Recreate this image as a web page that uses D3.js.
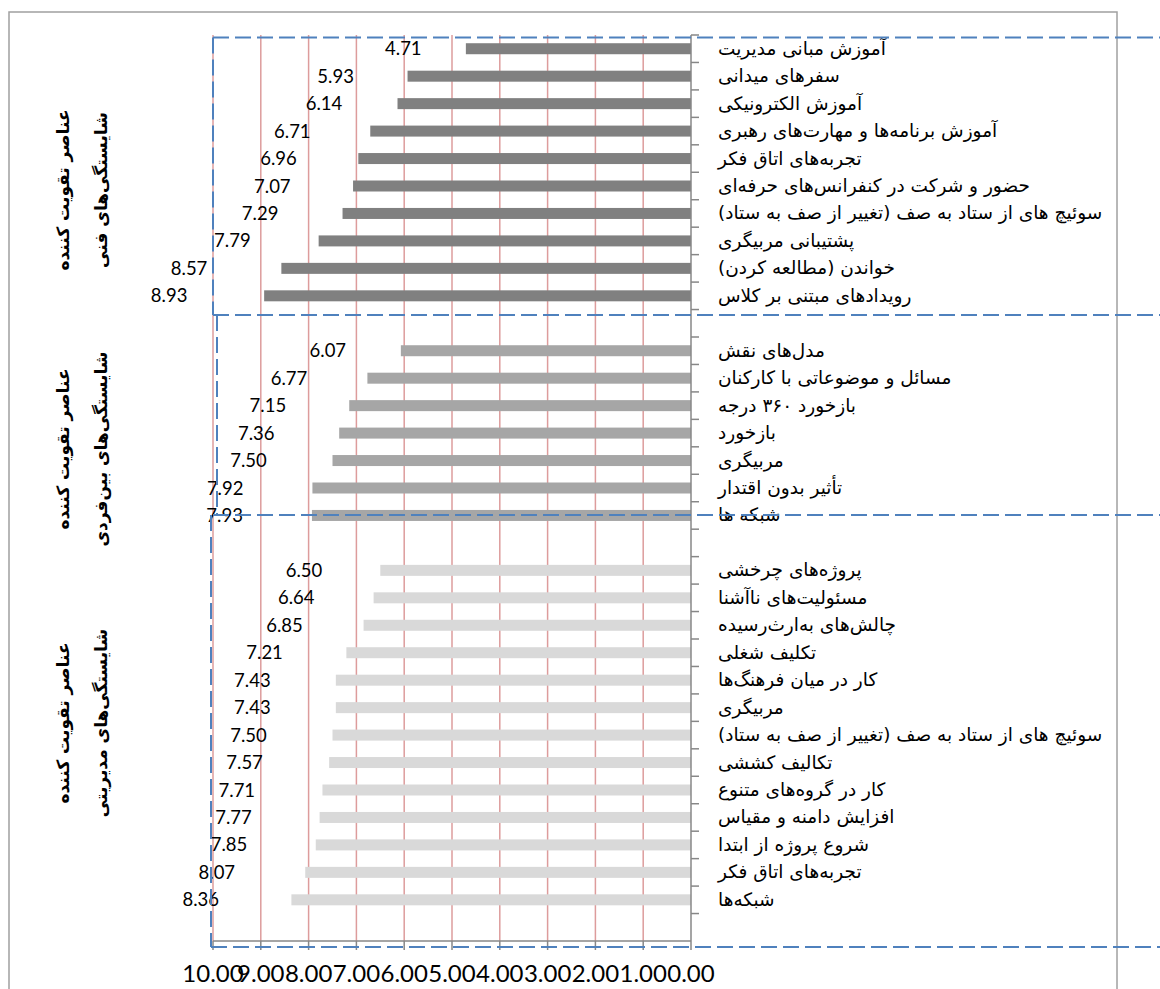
<!DOCTYPE html>
<html>
<head>
<meta charset="utf-8">
<script src="https://cdn.jsdelivr.net/npm/d3@7"></script>
<style>
  html, body { margin: 0; padding: 0; background: #fff; }
  svg { display: block; }
</style>
</head>
<body>
<svg id="chart" width="1160" height="989"></svg>
<script>
// ---------- data ----------
const techLabels = [
  "آموزش مبانی مدیریت",
  "سفرهای میدانی",
  "آموزش الکترونیکی",
  "آموزش برنامه‌ها و مهارت‌های رهبری",
  "تجربه‌های اتاق فکر",
  "حضور و شرکت در کنفرانس‌های حرفه‌ای",
  "سوئیچ های از ستاد به صف (تغییر از صف به ستاد)",
  "پشتیبانی مربیگری",
  "خواندن (مطالعه کردن)",
  "رویدادهای مبتنی بر کلاس"
];
const techValues = [4.71, 5.93, 6.14, 6.71, 6.96, 7.07, 7.29, 7.79, 8.57, 8.93];

const interLabels = [
  "مدل‌های نقش",
  "مسائل و موضوعاتی با کارکنان",
  "بازخورد ۳۶۰ درجه",
  "بازخورد",
  "مربیگری",
  "تأثیر بدون اقتدار",
  "شبکه ها"
];
const interValues = [6.07, 6.77, 7.15, 7.36, 7.50, 7.92, 7.93];

const manageLabels = [
  "پروژه‌های چرخشی",
  "مسئولیت‌های ناآشنا",
  "چالش‌های به‌ارث‌رسیده",
  "تکلیف شغلی",
  "کار در میان فرهنگ‌ها",
  "مربیگری",
  "سوئیچ های از ستاد به صف (تغییر از صف به ستاد)",
  "تکالیف کششی",
  "کار در گروه‌های متنوع",
  "افزایش دامنه و مقیاس",
  "شروع پروژه از ابتدا",
  "تجربه‌های اتاق فکر",
  "شبکه‌ها"
];
const manageValues = [6.50, 6.64, 6.85, 7.21, 7.43, 7.43, 7.50, 7.57, 7.71, 7.77, 7.85, 8.07, 8.36];

const groupTitleLine1 = ["عناصر تقویت کننده", "عناصر تقویت کننده", "عناصر تقویت کننده"];
const groupTitleLine2 = ["شایستگی‌های فنی", "شایستگی‌های بین‌فردی", "شایستگی‌های مدیریتی"];
const groupColors = ["#808080", "#a6a6a6", "#d9d9d9"];

const xTicks = [10, 9, 8, 7, 6, 5, 4, 3, 2, 1, 0];

// ---------- build rows (with blank separator slots) ----------
const groups = [
  { labels: techLabels, values: techValues },
  { labels: interLabels, values: interValues },
  { labels: manageLabels, values: manageValues }
];
const rows = [];
groups.forEach((g, gi) => {
  g.labels.forEach((lab, i) => rows.push({ label: lab, value: g.values[i], group: gi }));
  rows.push({ label: "", value: null, group: gi }); // blank slot
});
rows.forEach((r, i) => r.idx = i);

// ---------- layout ----------
const svg = d3.select("#chart");
const plotLeft = 213, plotRight = 691, plotTop = 35, plotBottom = 941;

const x = d3.scaleLinear().domain([10, 0]).range([plotLeft, plotRight]);
const y = d3.scaleBand().domain(rows.map(r => r.idx)).range([plotTop, plotBottom]).padding(0);
const labelX = d3.scaleLinear().domain([0, 10]).range([683, 128]);
const barH = 11;

// outer border
svg.append("rect").attr("x", 9).attr("y", 12).attr("width", 1108).attr("height", 1000)
  .attr("fill", "none").attr("stroke", "#a0a0a0").attr("stroke-width", 1.5);

// gridlines
svg.append("g").selectAll("line").data(xTicks.filter(d => d !== 0)).join("line")
  .attr("x1", d => x(d)).attr("x2", d => x(d))
  .attr("y1", plotTop).attr("y2", plotBottom)
  .attr("stroke", "#dd9c9c").attr("stroke-width", 1.5);

// bars
const dataRows = rows.filter(r => r.value !== null);
svg.append("g").selectAll("rect").data(dataRows).join("rect")
  .attr("x", d => x(d.value))
  .attr("width", d => x(0) - x(d.value))
  .attr("y", d => y(d.idx) + y.bandwidth() / 2 - barH / 2)
  .attr("height", barH)
  .attr("fill", d => groupColors[d.group]);

// category axis (right side, ticks between categories)
const yAxisG = svg.append("g");
yAxisG.append("line").attr("x1", x(0)).attr("x2", x(0)).attr("y1", plotTop).attr("y2", plotBottom)
  .attr("stroke", "#878787").attr("stroke-width", 1.5);
const boundaries = rows.map(r => y(r.idx));
yAxisG.selectAll("line.tk").data(boundaries).join("line").attr("class", "tk")
  .attr("x1", x(0)).attr("x2", x(0) + 8)
  .attr("y1", d => d).attr("y2", d => d)
  .attr("stroke", "#878787").attr("stroke-width", 1.5);

// category labels
svg.append("g").selectAll("text").data(dataRows).join("text")
  .attr("x", 718)
  .attr("y", d => y(d.idx) + y.bandwidth() / 2 + 6)
  .attr("direction", "rtl")
  .attr("text-anchor", "end")
  .attr("font-family", "'DejaVu Sans', sans-serif")
  .attr("font-size", 18.5)
  .attr("fill", "#000")
  .text(d => d.label);

// value axis (bottom)
const xAxisG = svg.append("g");
xAxisG.append("line").attr("x1", plotLeft).attr("x2", plotRight).attr("y1", plotBottom).attr("y2", plotBottom)
  .attr("stroke", "#878787").attr("stroke-width", 1.5);
xAxisG.selectAll("line.tk").data(xTicks).join("line").attr("class", "tk")
  .attr("x1", d => x(d)).attr("x2", d => x(d))
  .attr("y1", plotBottom).attr("y2", plotBottom + 9)
  .attr("stroke", "#878787").attr("stroke-width", 1.5);
xAxisG.selectAll("text").data(xTicks).join("text")
  .attr("x", d => x(d))
  .attr("y", 982)
  .attr("text-anchor", "middle")
  .attr("font-family", "Lato, 'Open Sans', sans-serif")
  .attr("font-size", 24)
  .attr("fill", "#000")
  .text(d => d3.format(".2f")(d));

// data labels
svg.append("g").selectAll("text").data(dataRows).join("text")
  .attr("x", d => labelX(d.value))
  .attr("y", d => y(d.idx) + y.bandwidth() / 2 + 6.5)
  .attr("text-anchor", "end")
  .attr("font-family", "Lato, 'Open Sans', sans-serif")
  .attr("font-size", 18.5)
  .attr("fill", "#000")
  .text(d => d3.format(".2f")(d.value));

// group titles (rotated)
const titleCenters = [190, 449, 723];
groupTitleLine1.forEach((t, i) => {
  const cy = titleCenters[i];
  const g = svg.append("g").attr("transform", `translate(0,${cy}) rotate(-90)`);
  g.append("text").attr("x", 0).attr("y", 69)
    .attr("text-anchor", "middle").attr("direction", "rtl")
    .attr("font-family", "'DejaVu Sans', sans-serif").attr("font-weight", "bold")
    .attr("font-size", 17).text(t);
  g.append("text").attr("x", 0).attr("y", 107)
    .attr("text-anchor", "middle").attr("direction", "rtl")
    .attr("font-family", "'DejaVu Sans', sans-serif").attr("font-weight", "bold")
    .attr("font-size", 17).text(groupTitleLine2[i]);
});

// blue dashed group frames
const dashSegs = [
  [213, 37.5, 1160, 37.5],
  [213, 37.5, 213, 315],
  [213, 315, 1160, 315],
  [217, 315, 217, 515],
  [213, 515, 1160, 515],
  [211, 515, 211, 947],
  [211, 947, 1160, 947]
];
svg.append("g").selectAll("line").data(dashSegs).join("line")
  .attr("x1", d => d[0]).attr("y1", d => d[1]).attr("x2", d => d[2]).attr("y2", d => d[3])
  .attr("stroke", "#4f81bd").attr("stroke-width", 2).attr("stroke-dasharray", "16,6");
</script>
</body>
</html>
